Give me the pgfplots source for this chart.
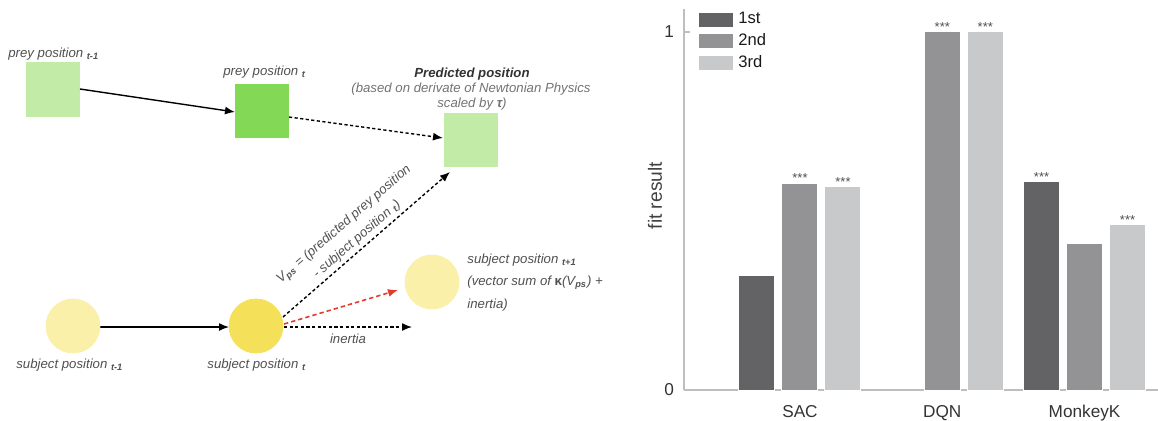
\documentclass[border=0pt]{standalone}
\usepackage{pgfplots}
\pgfplotsset{compat=1.18}
\usetikzlibrary{arrows.meta}
\usepackage{fontspec}
\setmainfont{Liberation Sans}
\definecolor{cA}{RGB}{99,99,101}
\definecolor{cB}{RGB}{147,147,150}
\definecolor{cC}{RGB}{200,201,203}
\definecolor{lgreen}{RGB}{194,235,168}
\definecolor{dgreen}{RGB}{131,216,85}
\definecolor{lyel}{RGB}{250,240,170}
\definecolor{dyel}{RGB}{245,224,90}
\definecolor{redarr}{RGB}{229,59,44}
\definecolor{txt}{RGB}{80,80,80}
\definecolor{ltxt}{RGB}{115,115,115}
\definecolor{axgray}{RGB}{190,190,190}
\newcommand\dfont{\fontsize{6.6}{8}\selectfont\itshape}
\newcommand\cfont{\fontsize{8.3}{10}\selectfont}
\newcommand\sub[1]{\textsubscript{\bfseries #1}}
\begin{document}
\begin{tikzpicture}
\useasboundingbox (0,0) rectangle (579pt,210pt);
% ---------------- diagram (pixel units) ----------------
\begin{axis}[at={(0pt,0pt)}, anchor=south west, x=0.5pt, y=0.5pt,
  xmin=0, xmax=600, ymin=0, ymax=420, y dir=reverse, hide axis, clip=false]
\addplot[fill=lgreen, draw=none] coordinates {(26,62)(80,62)(80,117)(26,117)} -- cycle;
\addplot[fill=dgreen, draw=none] coordinates {(235,84)(289,84)(289,138)(235,138)} -- cycle;
\addplot[fill=lgreen, draw=none] coordinates {(444,113)(498,113)(498,167)(444,167)} -- cycle;
\addplot[color=lyel, only marks, mark=*, mark size=13.5pt] coordinates {(73,326)(432,282)};
\addplot[color=dyel, only marks, mark=*, mark size=13.5pt] coordinates {(256,326)};
% arrows
\addplot[black, line width=0.7pt, -{Latex[length=5pt,width=4pt]}] coordinates {(80,89)(235,112)};
\addplot[black, line width=0.7pt, -{Latex[length=5pt,width=4pt]}] coordinates {(100,327)(229,327)};
\addplot[black, line width=0.7pt, dash pattern=on 1.6pt off 1.2pt, -{Latex[length=5pt,width=4pt]}] coordinates {(289,117)(443,138)};
\addplot[black, line width=0.7pt, dash pattern=on 1.6pt off 1.2pt, -{Latex[length=5pt,width=4pt]}] coordinates {(283,317)(450,172)};
\addplot[redarr, line width=0.8pt, dash pattern=on 2.2pt off 1.5pt, -{Latex[length=5pt,width=4pt]}] coordinates {(284,324)(398,290)};
\addplot[black, line width=0.7pt, dash pattern=on 1.6pt off 1.2pt, -{Latex[length=5pt,width=4pt]}] coordinates {(284,327)(412,327)};
% labels
\node[anchor=base west, text=txt, font=\dfont, inner sep=0pt] at (axis cs:8,57) {prey position \sub{t-1}};
\node[anchor=base west, text=txt, font=\dfont, inner sep=0pt] at (axis cs:223,75) {prey position \sub{t}};
\node[anchor=base, text=black!80, font=\dfont\bfseries, inner sep=0pt] at (axis cs:472,77) {Predicted position};
\node[anchor=base, text=ltxt, font=\dfont, inner sep=0pt] at (axis cs:471,92) {(based on derivate of Newtonian Physics};
\node[anchor=base, text=ltxt, font=\dfont, inner sep=0pt] at (axis cs:472,107) {scaled by {\bfseries τ})};
\node[anchor=base west, text=txt, font=\dfont, inner sep=0pt] at (axis cs:16,368) {subject position \sub{t-1}};
\node[anchor=base west, text=txt, font=\dfont, inner sep=0pt] at (axis cs:207,368) {subject position \sub{t}};
\node[anchor=base, text=txt, font=\dfont, inner sep=0pt] at (axis cs:348,343) {inertia};
\node[anchor=base west, text=txt, font=\dfont, inner sep=0pt] at (axis cs:467,263) {subject position \sub{t+1}};
\node[anchor=base west, text=txt, font=\dfont, inner sep=0pt] at (axis cs:467,285) {(vector sum of {\bfseries\upshape κ}(V\sub{ps}) +};
\node[anchor=base west, text=txt, font=\dfont, inner sep=0pt] at (axis cs:467,308) {inertia)};
\node[rotate=41, text=txt, font=\fontsize{6.6}{10}\selectfont\itshape, inner sep=0pt, align=center] at (axis cs:350.5,232) {V\sub{ps} = (predicted prey position\\- subject position \sub{t})};
\end{axis}
% ---------------- bar chart ----------------
\begin{axis}[at={(342pt,15pt)}, anchor=south west, scale only axis,
  width=237pt, height=190.5pt,
  xmin=-0.815, xmax=2.516, ymin=0, ymax=1.064,
  axis x line*=bottom, axis y line*=left,
  axis line style={axgray, line width=0.9pt},
  ybar=3.5pt, bar width=18pt,
  xtick={0,1,2}, xticklabels={SAC,DQN,MonkeyK},
  ytick={0,1},
  /pgf/number format/assume math mode=true,
  x tick style={draw=none},
  y tick style={axgray, line width=0.6pt},
  tick align=inside, major tick length=3pt,
  tick label style={font=\fontsize{8.6}{10}\selectfont, text=black!80},
  xticklabel style={yshift=-4pt},
  yticklabel style={xshift=-1.5pt},
  ylabel={fit result},
  ylabel style={font=\fontsize{9.6}{11}\selectfont, text=black!75, at={(axis description cs:-0.061,0.51)}, anchor=center},
  legend style={at={(axis description cs:0.0295,0.995)}, anchor=north west, draw=none, fill=none,
    inner sep=0pt, row sep=2.45pt, font=\cfont, text=black!90,
    nodes={inner xsep=2pt, inner ysep=0.5pt}},
  legend cell align=left,
  legend image code/.code={\fill[#1] (0pt,-3.75pt) rectangle (17.5pt,3.75pt);},
]
\addplot[fill=cA, draw=white, line width=0.5pt] coordinates {(0,0.321) (2,0.581)};
\addplot[fill=cB, draw=white, line width=0.5pt] coordinates {(0,0.578) (1,1.0) (2,0.408)};
\addplot[fill=cC, draw=white, line width=0.5pt] coordinates {(0,0.567) (1,1.0) (2,0.461)};
\legend{1st,2nd,3rd}
\begin{scope}[every node/.style={font=\fontsize{6.5}{7}\selectfont, text=txt, anchor=south, inner sep=0pt}]
\node at (axis cs:0,0.578) {***};
\node[xshift=21.5pt] at (axis cs:0,0.567) {***};
\node at (axis cs:1,1.0) {***};
\node[xshift=21.5pt] at (axis cs:1,1.0) {***};
\node[xshift=-21.5pt] at (axis cs:2,0.581) {***};
\node[xshift=21.5pt] at (axis cs:2,0.461) {***};
\end{scope}
\end{axis}
\end{tikzpicture}
\end{document}
